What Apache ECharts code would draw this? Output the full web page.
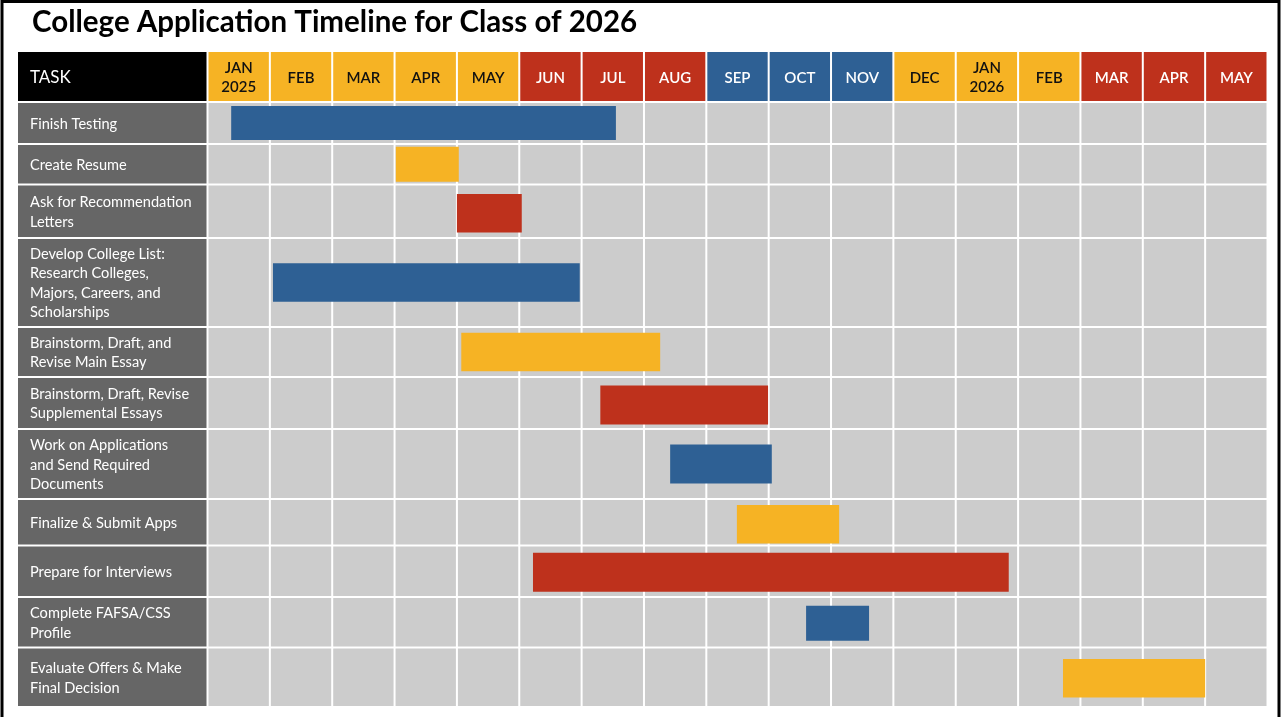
<!DOCTYPE html>
<html><head><meta charset="utf-8">
<script src="https://cdn.jsdelivr.net/npm/echarts@6/dist/echarts.min.js"></script>
<style>html,body{margin:0;padding:0;background:#fff}#c{width:1281px;height:717px}</style>
</head><body><div id="c"></div>
<script>
// ---- data ----
const chartTitle = 'College Application Timeline for Class of 2026';
const headerTask = 'TASK';
const months = ['JAN\n2025','FEB','MAR','APR','MAY','JUN','JUL','AUG','SEP','OCT','NOV','DEC','JAN\n2026','FEB','MAR','APR','MAY'];
const monthGroup = ['gold','gold','gold','gold','gold','red','red','red','blue','blue','blue','gold','gold','gold','red','red','red'];
const tasks = [
  'Finish Testing',
  'Create Resume',
  'Ask for Recommendation\nLetters',
  'Develop College List:\nResearch Colleges,\nMajors, Careers, and\nScholarships',
  'Brainstorm, Draft, and\nRevise Main Essay',
  'Brainstorm, Draft, Revise\nSupplemental Essays',
  'Work on Applications\nand Send Required\nDocuments',
  'Finalize & Submit Apps',
  'Prepare for Interviews',
  'Complete FAFSA/CSS\nProfile',
  'Evaluate Offers & Make\nFinal Decision'
];
// start / end in months counted from the start of Jan 2025
const taskStart = [0.38, 3.02, 4.00, 1.05, 4.07, 6.30, 7.42, 8.49, 5.22, 9.60, 13.72];
const taskEnd   = [6.55, 4.03, 5.04, 5.97, 7.26, 8.99, 9.05, 10.13, 12.85, 10.61, 16.00];
const taskGroup = ['blue','gold','red','blue','gold','red','blue','gold','red','blue','gold'];

// ---- layout / style ----
const palette = {gold:'#F6B324', red:'#BE311C', blue:'#2E6094'};
const headerText = {gold:'#111111', red:'#FFFFFF', blue:'#FFFFFF'};
const rowHeights = [42, 40.5, 53.5, 89, 50, 52, 70, 46.5, 51.5, 50.5, 59.5];
const barHeights = [34, 35, 38.5, 38.5, 38.5, 39, 39, 38.5, 39, 35, 38.5];
const barShift   = [0, 0, 2, 0, 0, 2, 0, 2, 1, 1, 1];
const HEADER_H = 50;
const LABEL_LEFT = 18;
const FONT = 'Lato, "Open Sans", sans-serif';

const rowTop = [];
let acc = 0;
rowHeights.forEach(h => { rowTop.push(acc); acc += h; });
const totalH = acc;

const chart = echarts.init(document.getElementById('c'));

const headerSeries = {
  type: 'custom',
  clip: false,
  silent: true,
  data: months.map((m, i) => [i, i + 1]),
  renderItem(params, api) {
    const i = params.dataIndex;
    const a = api.coord([api.value(0), -HEADER_H]);
    const b = api.coord([api.value(1), 0]);
    const g = monthGroup[i];
    const children = [
      {type:'rect', shape:{x:a[0] + 1, y:a[1], width:b[0] - a[0] - 2, height:b[1] - a[1] - 1}, style:{fill:palette[g]}},
      {type:'text', style:{text:months[i], x:(a[0] + b[0]) / 2, y:(a[1] + b[1]) / 2 + 1, align:'center', verticalAlign:'middle',
        fill:headerText[g], font:'600 15px ' + FONT, lineHeight:19}}
    ];
    if (i === 0) {
      children.push({type:'rect', shape:{x:LABEL_LEFT, y:a[1], width:a[0] - 1 - LABEL_LEFT, height:b[1] - a[1] - 1}, style:{fill:'#000'}});
      children.push({type:'text', style:{text:headerTask, x:LABEL_LEFT + 12, y:(a[1] + b[1]) / 2 + 1, align:'left', verticalAlign:'middle',
        fill:'#fff', font:'17px ' + FONT}});
    }
    return {type:'group', children};
  }
};

const taskSeries = {
  type: 'custom',
  clip: false,
  silent: true,
  data: tasks.map((t, i) => [taskStart[i], taskEnd[i], rowTop[i], rowTop[i] + rowHeights[i]]),
  renderItem(params, api) {
    const i = params.dataIndex;
    const s = api.value(0), e = api.value(1), t = api.value(2), bt = api.value(3);
    const tl = api.coord([0, t]);
    const br = api.coord([months.length, bt]);
    const y0 = tl[1] + 1, y1 = br[1] - 1;
    const children = [];
    children.push({type:'rect', shape:{x:LABEL_LEFT, y:y0, width:tl[0] - 1 - LABEL_LEFT, height:y1 - y0}, style:{fill:'#666666'}});
    children.push({type:'text', style:{text:tasks[i], x:LABEL_LEFT + 12, y:(y0 + y1) / 2 + 1, align:'left', verticalAlign:'middle',
      fill:'#fff', font:'14.6px ' + FONT, lineHeight:19.5}});
    for (let m = 0; m < months.length; m++) {
      const p = api.coord([m, t]);
      const q = api.coord([m + 1, t]);
      children.push({type:'rect', shape:{x:p[0] + 1, y:y0, width:q[0] - p[0] - 2, height:y1 - y0}, style:{fill:'#CCCCCC'}});
    }
    const mid = (t + bt) / 2 + barShift[i];
    const ps = api.coord([s, mid]);
    const pe = api.coord([e, mid]);
    const h = barHeights[i];
    children.push({type:'rect', shape:{x:ps[0], y:ps[1] - h / 2, width:pe[0] - ps[0], height:h}, style:{fill:palette[taskGroup[i]]}});
    return {type:'group', children};
  }
};

chart.setOption({
  animation: false,
  backgroundColor: '#ffffff',
  grid: {left: 207.5, right: 13.5, top: 52, bottom: 10},
  xAxis: {type:'value', min:0, max:months.length, show:false},
  yAxis: {type:'value', inverse:true, min:-HEADER_H, max:totalH, show:false},
  graphic: [
    {type:'rect', shape:{x:2, y:1.5, width:1277, height:730}, style:{fill:'none', stroke:'#000', lineWidth:3}, silent:true},
    {type:'text', left:32, top:7, style:{text:chartTitle, font:'bold 29.5px ' + FONT, fill:'#000'}}
  ],
  series: [headerSeries, taskSeries]
});
</script>
</body></html>
